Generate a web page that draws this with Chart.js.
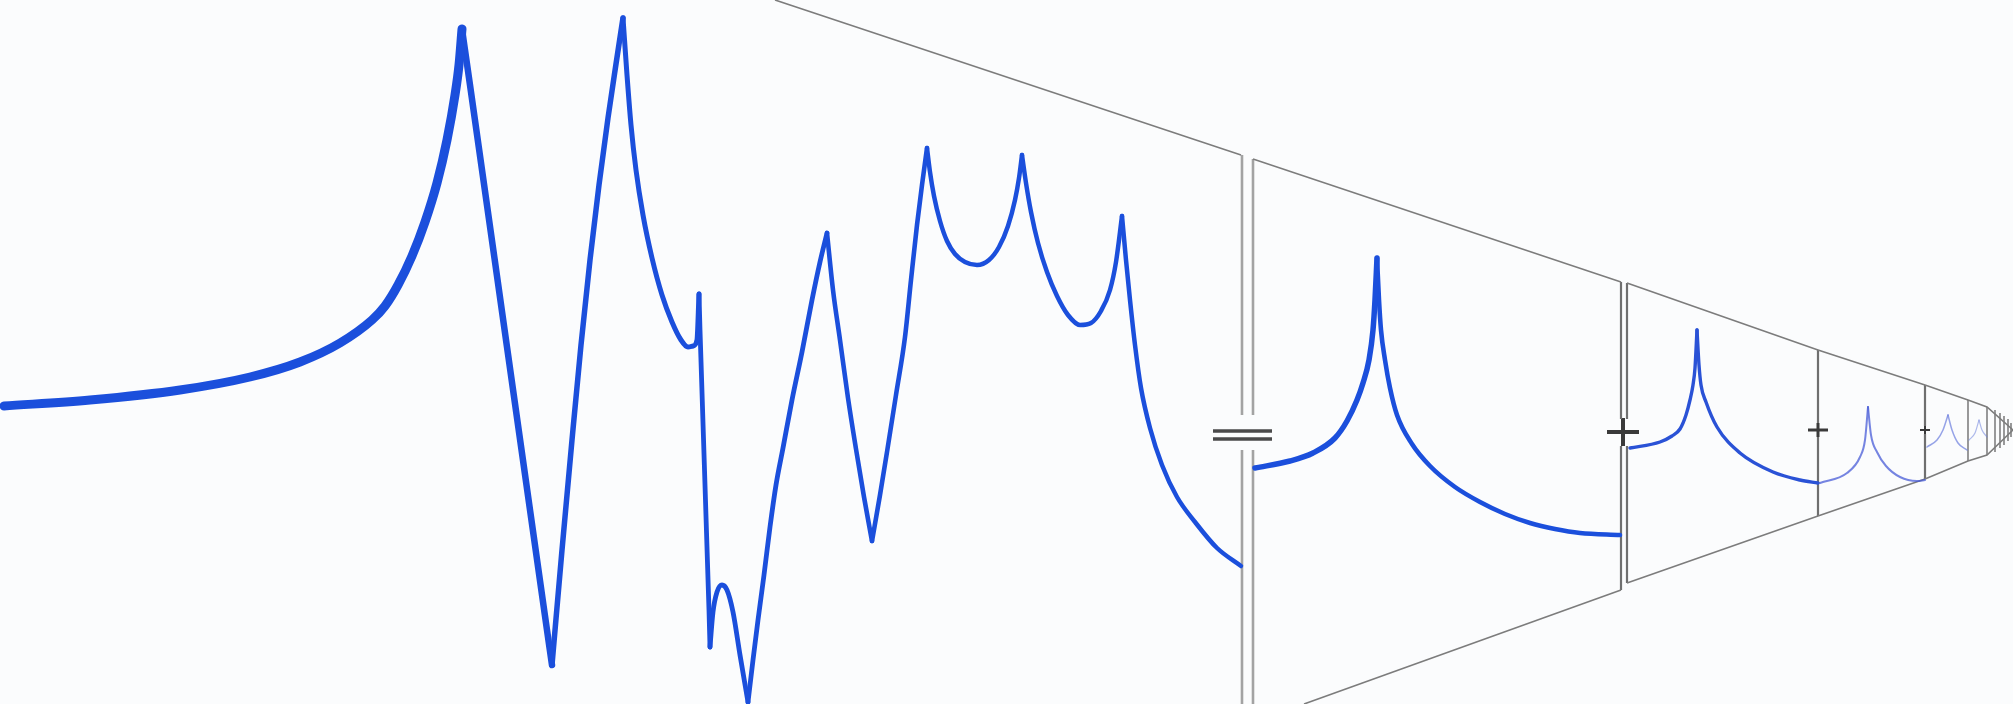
<!DOCTYPE html>
<html>
<head>
<meta charset="utf-8">
<script src="https://cdn.jsdelivr.net/npm/chart.js@4.4.1/dist/chart.umd.min.js"></script>
<style>
  html,body{margin:0;padding:0;background:#fbfcfd;}
  #wrap{position:relative;width:2013px;height:704px;}
</style>
</head>
<body>
<div id="wrap"><canvas id="modal"></canvas></div>
<script>
// Sum response (left) and the single-mode responses (perspective boxes), [x, y] in figure units
const totalCurve = [
  [4,406],[90,400],[180,390],[250,377],[300,362],[340,343],[372,320],[385,306],[398,285],[412,256],[425,222],[437,183],[447,140],[455,95],[459,65],[462,29],
  [470,85],[507,347],[545,616],[552,665],
  [562,550],[572,440],[581,345],[590,260],[599,185],[608,118],[616,64],[623,18],
  [627,75],[631,125],[636,170],[643,215],[652,258],[662,295],[672,322],[681,340],[688,347],[693,346],[697,340],[699,294],
  [700,330],[709,610],[710,647],
  [713,612],[717,592],[722,585],[727,590],[733,612],[740,655],[748,702],
  [753,660],[758,620],[764,575],[770,527],[776,485],[783,448],[792,400],[802,352],[812,300],[820,262],[827,233],
  [833,290],[840,340],[848,398],[856,449],[864,497],[872,541],
  [880,495],[887,452],[896,395],[905,337],[911,280],[917,225],[922,185],[927,148],
  [930,172],[934,196],[940,221],[947,241],[955,254],[965,262],[977,265],[989,260],[999,247],[1008,226],[1015,200],[1019,178],[1022,155],
  [1026,183],[1031,212],[1038,243],[1047,272],[1057,296],[1068,315],[1080,325],[1091,323],[1101,311],[1110,290],[1116,262],[1122,216],
  [1126,260],[1130,300],[1135,345],[1141,388],[1150,428],[1162,465],[1177,497],[1195,522],[1217,548],[1241,566]
];
const totalCusps = [462,552,623,699,710,748,827,872,927,1022,1122];

const mode1 = [[1255,468],[1290,461],[1313,453],[1335,438],[1347,421],[1357,400],[1363,383],[1369,360],[1373,330],[1375,300],[1377,258],
  [1379,300],[1381,330],[1385,360],[1390,388],[1397,415],[1412,444],[1430,466],[1455,487],[1480,502],[1505,514],[1530,523],[1555,529],[1580,533],[1620,535]];
const mode2 = [[1630,448],[1660,442],[1672,436],[1680,429],[1686,415],[1690,400],[1693,385],[1695,368],[1697,330],
  [1699,365],[1701,385],[1706,402],[1717,427],[1740,453],[1773,472],[1800,480],[1818,483]];
const mode3 = [[1820,483],[1847,473],[1860,457],[1865,440],[1868,407],[1871,435],[1877,452],[1886,466],[1900,477],[1917,481],[1925,480]];
const mode4 = [[1927,447],[1937,440],[1943,430],[1948,415],[1952,430],[1958,443],[1967,450]];
const mode5 = [[1969,440],[1975,433],[1979,420],[1982,430],[1987,437]];
const modeCusps = [1377,1697,1868,1948,1979];

// frame: slanted edges and vertical edges [x, yTop, yBottom]
const topEdges = [
  [[775,0],[1241,155]],
  [[1253,159],[1621,282]],
  [[1627,283],[1818,350],[1925,385],[1968,400],[1987,407],[2013,430]]
];
const bottomEdges = [
  [[1304,704],[1621,590]],
  [[1627,583],[1818,516],[1925,479],[1968,461],[1987,455],[2013,430]]
];
const verticals = [
  [1242,155,415],[1242,450,704],[1253,159,415],[1253,450,704],
  [1621,282,419],[1621,446,590],[1627,283,419],[1627,446,583],
  [1818,350,423],[1818,437,516],[1925,385,426],[1925,434,479],
  [1968,400,461],[1987,407,455],[1995,410,452],[2000,413,448],[2004,416,445],[2008,419,441],[2011,423,437]
];
// operators "=" and "+" as strokes
const equalsBars = [[[1213,431],[1272,431]],[[1213,439],[1272,439]]];
const plusSigns = [[1623,432,16,14],[1818,430,10,7],[1925,430,5,4]]; // x, y, half width, half height

(function(){
  const BLUE='#1b4fdc';
  const pts = arr => arr.map(p=>({x:p[0], y:p[1]}));

  // cut a curve into smooth pieces at its cusps (cusp point kept in both pieces)
  function splitAt(points, cuts){
    const pieces=[]; let cur=[];
    points.forEach(p=>{
      cur.push(p);
      if(cuts.includes(p[0]) && cur.length>1){ pieces.push(cur); cur=[p]; }
    });
    if(cur.length>1) pieces.push(cur);
    return pieces;
  }

  const datasets=[];
  function curve(arr, color, width){
    datasets.push({ data:pts(arr), borderColor:color, borderWidth:width, cubicInterpolationMode:'monotone',
      borderCapStyle:'round', borderJoinStyle:'round', order:1 });
  }
  function stroke(arr, color, width){
    datasets.push({ data:pts(arr), borderColor:color, borderWidth:width, tension:0, borderCapStyle:'butt', order:2 });
  }

  // sum curve: thick at low frequency, thinner further right
  const totalWidths=[9,6.5,5.5,5,4.8,4.8,4.8,4.6,4.6,4.5,4.5,4.5];
  splitAt(totalCurve, totalCusps).forEach((seg,i)=> curve(seg, BLUE, totalWidths[i]||4.5));

  splitAt(mode1, modeCusps).forEach((seg,i)=> curve(seg, BLUE, i===0?5.5:4.6));
  splitAt(mode2, modeCusps).forEach(seg=> curve(seg, '#2a52d6', 3.4));
  splitAt(mode3, modeCusps).forEach(seg=> curve(seg, 'rgba(72,92,215,0.75)', 2));
  splitAt(mode4, modeCusps).forEach(seg=> curve(seg, 'rgba(95,115,220,0.65)', 1.5));
  splitAt(mode5, modeCusps).forEach(seg=> curve(seg, 'rgba(110,130,220,0.55)', 1.2));

  topEdges.forEach(e=> stroke(e, '#7c7c7c', 1.6));
  bottomEdges.forEach(e=> stroke(e, '#7c7c7c', 1.6));
  verticals.forEach(v=>{
    const light = v[0]<1260;
    const w = light ? 2.6 : (v[0]<1960 ? 2.2 : 1.4);
    stroke([[v[0],v[1]],[v[0],v[2]]], light ? '#a3a3a3' : '#6f6f6f', w);
  });
  equalsBars.forEach(b=> stroke(b, '#4a4a4a', 3.5));
  plusSigns.forEach(p=>{
    const w = p[2]>12 ? 4 : (p[2]>6 ? 3 : 2);
    stroke([[p[0]-p[2],p[1]],[p[0]+p[2],p[1]]], '#3a3a3a', w);
    stroke([[p[0],p[1]-p[3]],[p[0],p[1]+p[3]]], '#3a3a3a', w);
  });

  new Chart(document.getElementById('modal').getContext('2d'), {
    type:'scatter',
    data:{ datasets },
    options:{
      responsive:true, maintainAspectRatio:false, animation:false,
      layout:{ padding:0 },
      showLine:true,
      elements:{ point:{ radius:0, hoverRadius:0 } },
      plugins:{ legend:{display:false}, tooltip:{enabled:false} },
      scales:{
        x:{ type:'linear', min:0, max:2013, display:false },
        y:{ type:'linear', min:0, max:704, reverse:true, display:false }
      }
    }
  });
})();
</script>
</body>
</html>
